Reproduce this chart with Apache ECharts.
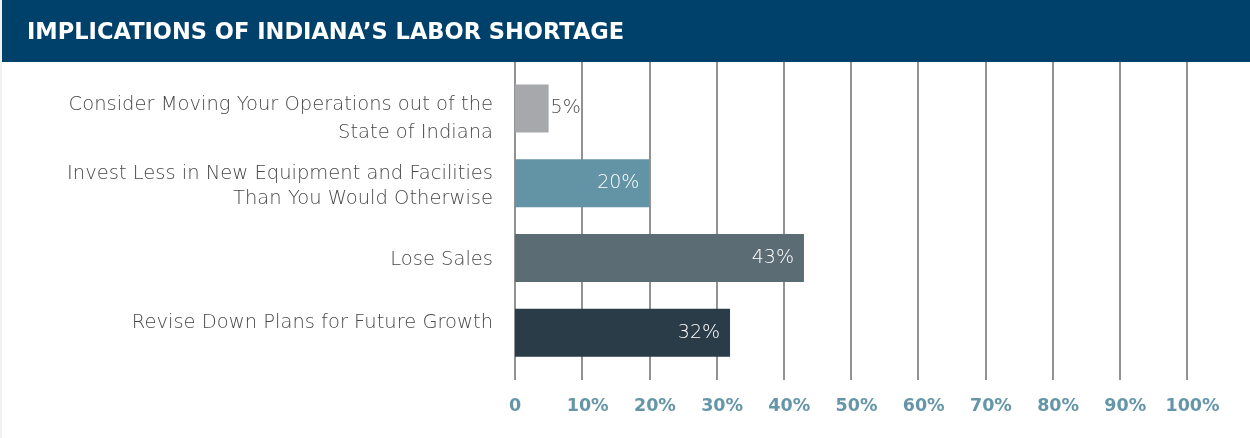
<!DOCTYPE html>
<html>
<head>
<meta charset="utf-8">
<script src="https://cdn.jsdelivr.net/npm/echarts@6/dist/echarts.min.js"></script>
<style>
  html, body { margin: 0; padding: 0; background: #fff; }
  #chart { width: 1250px; height: 438px; }
</style>
</head>
<body>
<div id="chart"></div>
<script>
// data
const categories = [
  'Consider Moving Your Operations out of the\nState of Indiana',
  'Invest Less in New Equipment and Facilities\nThan You Would Otherwise',
  'Lose Sales',
  'Revise Down Plans for Future Growth'
]
const values = [5, 20, 43, 32]
const xTicks = { min: 0, max: 100, step: 10 }

const barColors = ['#a7a8ac', '#6394a6', '#5c6c75', '#2a3c48']
// the category labels do not sit exactly on their bars in the original
const labelStyles = [
  { lineHeight: 28, padding: [21, 0, 0, 0] },
  { lineHeight: 25, padding: [6, 0, 0, 0] },
  { lineHeight: 26, padding: [5, 0, 0, 0] },
  { lineHeight: 26, padding: [0, 0, 20, 0] }
]

const catRich = {}
labelStyles.forEach((s, i) => {
  catRich['c' + i] = s
})

const chart = echarts.init(document.getElementById('chart'))

chart.setOption({
  animation: false,
  title: {
    text: 'IMPLICATIONS OF INDIANA\u2019S LABOR SHORTAGE',
    left: 22,
    top: 17,
    textStyle: {
      color: '#fff',
      fontFamily: 'DejaVu Sans',
      fontWeight: 'bold',
      fontSize: 22.5
    }
  },
  graphic: [
    { type: 'rect', z: -10, shape: { x: 2, y: 0, width: 1248, height: 62 }, style: { fill: '#00416b' } },
    { type: 'rect', z: -10, shape: { x: 0, y: 0, width: 2, height: 438 }, style: { fill: '#f1f1f1' } }
  ],
  grid: [
    { left: 515, width: 672, top: 71, height: 299 },
    { left: 515, width: 672, top: 62, height: 318 }
  ],
  xAxis: [
    { gridIndex: 0, type: 'value', min: xTicks.min, max: xTicks.max, show: false },
    {
      gridIndex: 1,
      type: 'value',
      min: xTicks.min,
      max: xTicks.max,
      interval: xTicks.step,
      axisLine: { show: false },
      axisTick: { show: false },
      splitLine: { lineStyle: { color: '#6e6e6e', width: 1.5 } },
      axisLabel: {
        margin: 17,
        color: '#6596a8',
        fontFamily: 'DejaVu Sans',
        fontWeight: 'bold',
        fontSize: 17.5,
        formatter: v => (v === 0 ? '{z|0}' : '{p|' + v + '%}'),
        rich: {
          z: {},
          p: { padding: [0, 0, 0, 11] }
        }
      }
    }
  ],
  yAxis: [
    {
      gridIndex: 0,
      type: 'category',
      inverse: true,
      data: categories,
      axisLine: { show: false },
      axisTick: { show: false },
      splitLine: { show: false },
      axisLabel: {
        margin: 22,
        color: '#484848',
        fontFamily: 'DejaVu Sans',
        fontWeight: 200,
        fontSize: 19.5,
        lineHeight: 26,
        align: 'right',
        formatter: (v, i) => v.split('\n').map(l => '{c' + i + '|' + l + '}').join('\n'),
        rich: catRich
      }
    },
    { gridIndex: 1, type: 'value', show: false }
  ],
  series: [
    {
      type: 'bar',
      xAxisIndex: 0,
      yAxisIndex: 0,
      barWidth: 48,
      data: values.map((v, i) => ({
        value: v,
        itemStyle: { color: barColors[i] },
        label: v < 10
          ? { position: 'right', distance: 2, color: '#4a4a4a' }
          : { position: 'insideRight', distance: 10, color: '#fff' }
      })),
      label: {
        show: true,
        fontFamily: 'DejaVu Sans',
        fontWeight: 200,
        fontSize: 19,
        formatter: p => p.value + '%'
      }
    }
  ]
})
</script>
</body>
</html>
